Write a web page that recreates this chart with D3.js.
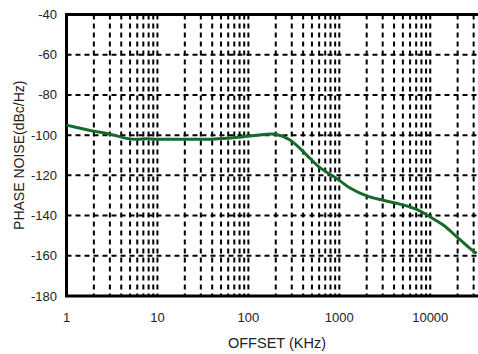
<!DOCTYPE html>
<html><head><meta charset="utf-8">
<script src="https://cdn.jsdelivr.net/npm/d3@7"></script>
<style>body{margin:0;background:#fff}svg{display:block}</style>
</head><body>
<svg id="c" width="478" height="354"></svg>
<script>
const freq = [1, 1.5, 2, 3, 4.6, 5.9, 7.6, 10, 20, 40, 77, 124, 200, 287, 438, 588, 1000, 1312, 2000, 3045, 4645, 7090, 9925, 13900, 19500, 27300, 32360];
const noise = [-95, -96.8, -98, -99.5, -101.6, -102.1, -101.8, -102, -102, -102, -101.1, -100, -99.6, -102.4, -109.9, -115.5, -122.5, -126.3, -130.2, -132.4, -134.3, -136.9, -140.6, -144.7, -150.5, -156.3, -158.8];
const xTicks = [1, 10, 100, 1000, 10000];
const yTicks = [-180, -160, -140, -120, -100, -80, -60, -40];
const xLabel = "OFFSET (KHz)";
const yLabel = "PHASE NOISE(dBc/Hz)";

const svg = d3.select("#c");
const L = 66.5, T = 14.5, B = 296, R = 485;
const x = d3.scaleLog().domain([1, 40000]).range([L, R]);
const y = d3.scaleLinear().domain([-180, -40]).range([B, T]);
const font = "'Liberation Sans', Arial, sans-serif";

// minor/major vertical grid
const vgrid = [];
for (let d = 1; d <= 10000; d *= 10) for (let k = 1; k <= 9; k++) { const v = d * k; if (v > 1 && v <= 40000) vgrid.push(v); }
svg.append("g").selectAll("line").data(vgrid).join("line")
  .attr("x1", d => x(d)).attr("x2", d => x(d)).attr("y1", T).attr("y2", B)
  .attr("stroke", "#000").attr("stroke-width", 2).attr("stroke-dasharray", "5,4");
svg.append("g").selectAll("line").data(yTicks.filter(v => v > -180 && v < -40)).join("line")
  .attr("x1", L).attr("x2", R).attr("y1", d => y(d)).attr("y2", d => y(d))
  .attr("stroke", "#000").attr("stroke-width", 2).attr("stroke-dasharray", "5,4");

// frame
svg.append("rect").attr("x", L).attr("y", T).attr("width", R - L).attr("height", B - T)
  .attr("fill", "none").attr("stroke", "#000").attr("stroke-width", 3);

// curve
const line = d3.line().x((d, i) => x(freq[i])).y(d => y(d)).curve(d3.curveCatmullRom.alpha(0.5));
svg.append("path").datum(noise).attr("d", line).attr("fill", "none")
  .attr("stroke", "#166a2b").attr("stroke-width", 3).attr("stroke-linejoin", "round");

// axes labels
svg.append("g").selectAll("text").data(yTicks).join("text")
  .attr("x", 57).attr("y", d => y(d)).attr("dy", "0.35em").attr("text-anchor", "end")
  .attr("font-family", font).attr("font-size", 13).attr("fill", "#222").text(d => d);
svg.append("g").selectAll("text").data(xTicks).join("text")
  .attr("x", d => x(d)).attr("y", 317).attr("dy", "0.35em").attr("text-anchor", "middle")
  .attr("font-family", font).attr("font-size", 13).attr("fill", "#222").text(d => d);
svg.append("text").attr("x", 277).attr("y", 343).attr("dy", "0.35em").attr("text-anchor", "middle")
  .attr("font-family", font).attr("font-size", 14.5).attr("fill", "#222").text(xLabel);
svg.append("text").attr("transform", `translate(19,${(T + B) / 2}) rotate(-90)`).attr("dy", "0.35em")
  .attr("text-anchor", "middle").attr("font-family", font).attr("font-size", 14).attr("fill", "#222").text(yLabel);
</script>
</body></html>
